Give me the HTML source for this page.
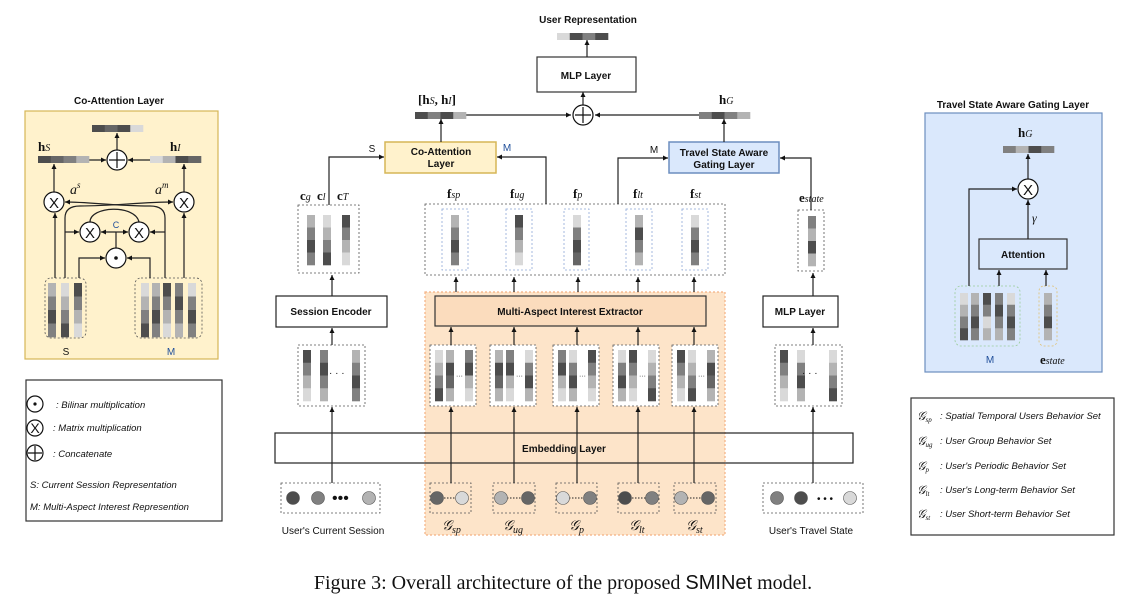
<!DOCTYPE html>
<html><head><meta charset="utf-8"><style>
body{margin:0;background:#fff}
svg{display:block;font-family:"Liberation Sans",sans-serif}
.b{font-weight:bold;font-size:10px}
.m{font-family:"Liberation Serif",serif;font-weight:bold;font-size:13px}
.i{font-style:italic;font-size:9.5px}
.sf{font-family:"Liberation Serif",serif}
</style></head><body>
<svg id="s" width="1126" height="604" viewBox="0 0 1126 604" xmlns="http://www.w3.org/2000/svg">
<defs><marker id="a" markerWidth="6" markerHeight="6" refX="5" refY="3" orient="auto" markerUnits="userSpaceOnUse"><path d="M0,0.5 L5,3 L0,5.5z" fill="#111"/></marker></defs>
<g stroke="#222" fill="none" stroke-width="1.2">
<rect x="25" y="111" width="193" height="248" fill="#fff2cc" stroke="#d6b656"/>
<rect x="925" y="113" width="177" height="259" fill="#dae8fc" stroke="#6c8ebf"/>
<rect x="26" y="380" width="196" height="141" stroke="#333"/>
<rect x="911" y="398" width="203" height="137" stroke="#333"/>
<rect x="425" y="292" width="300" height="243" fill="#fde4c9" stroke="#f4b183" stroke-dasharray="2,2"/>
<rect x="537" y="57" width="99" height="35" stroke="#333"/>
<rect x="385" y="142" width="111" height="31" fill="#fff2cc" stroke="#d6b656" stroke-width="1.5"/>
<rect x="669" y="142" width="110" height="31" fill="#dae8fc" stroke="#6c8ebf" stroke-width="1.5"/>
<rect x="276" y="296" width="111" height="31"/>
<rect x="435" y="296" width="271" height="30" fill="#fbdcbd" stroke="#333"/>
<rect x="763" y="296" width="75" height="31"/>
<rect x="275" y="433" width="578" height="30"/>
<rect x="979" y="239" width="88" height="30" stroke="#333"/>
<g stroke="#555" stroke-width="0.8" stroke-dasharray="2,2">
<rect x="298" y="205" width="61" height="68"/>
<rect x="425" y="204" width="300" height="71"/>
<rect x="798" y="210" width="26" height="61"/>
<rect x="298" y="345" width="67" height="61"/>
<rect x="430" y="345" width="46" height="61" fill="#fff"/><rect x="490" y="345" width="46" height="61" fill="#fff"/><rect x="553" y="345" width="46" height="61" fill="#fff"/><rect x="613" y="345" width="46" height="61" fill="#fff"/><rect x="672" y="345" width="46" height="61" fill="#fff"/>
<rect x="775" y="345" width="67" height="61"/>
<rect x="281" y="483" width="99" height="30"/>
<rect x="430" y="483" width="41" height="30"/><rect x="493" y="483" width="42" height="30"/><rect x="556" y="483" width="41" height="30"/><rect x="618" y="483" width="41" height="30"/><rect x="674" y="483" width="42" height="30"/>
<rect x="763" y="483" width="100" height="30"/>
<rect x="45" y="278" width="41" height="60" rx="6"/>
<rect x="135" y="278" width="67" height="60" rx="6"/>
</g>
<g stroke="#8fa9d8" stroke-width="0.8" stroke-dasharray="2,2">
<rect x="442" y="209" width="26" height="61"/><rect x="506" y="209" width="26" height="61"/><rect x="564" y="209" width="25" height="61"/><rect x="626" y="209" width="26" height="61"/><rect x="682" y="209" width="26" height="61"/>
</g>
<rect x="955" y="286" width="65" height="60" rx="6" stroke="#9c9" stroke-width="0.8" stroke-dasharray="2,2"/>
<rect x="1039" y="286" width="18" height="60" rx="5" stroke="#e0c070" stroke-width="0.8" stroke-dasharray="2,2"/>
<path d="M587,57 V40" marker-end="url(#a)"/>
<path d="M583,105 V92" marker-end="url(#a)"/>
<path d="M466,115 H571" marker-end="url(#a)"/>
<path d="M699,115 H595" marker-end="url(#a)"/>
<path d="M441,142 V119" marker-end="url(#a)"/>
<path d="M724,142 V119" marker-end="url(#a)"/>
<path d="M329,205 V157 H384" marker-end="url(#a)"/>
<path d="M546,204 V157 H497" marker-end="url(#a)"/>
<path d="M618,204 V158 H668" marker-end="url(#a)"/>
<path d="M811,210 V158 H780" marker-end="url(#a)"/>
<path d="M456,292 V277" marker-end="url(#a)"/><path d="M514,292 V277" marker-end="url(#a)"/><path d="M578,292 V277" marker-end="url(#a)"/><path d="M638,292 V277" marker-end="url(#a)"/><path d="M694,292 V277" marker-end="url(#a)"/>
<path d="M332,296 V275" marker-end="url(#a)"/>
<path d="M813,296 V273" marker-end="url(#a)"/>
<path d="M332,345 V328" marker-end="url(#a)"/>
<path d="M451,345 V327" marker-end="url(#a)"/><path d="M514,345 V327" marker-end="url(#a)"/><path d="M577,345 V327" marker-end="url(#a)"/><path d="M638,345 V327" marker-end="url(#a)"/><path d="M694,345 V327" marker-end="url(#a)"/>
<path d="M813,345 V328" marker-end="url(#a)"/>
<path d="M332,483 V407" marker-end="url(#a)"/><path d="M451,483 V407" marker-end="url(#a)"/><path d="M514,483 V407" marker-end="url(#a)"/><path d="M577,483 V407" marker-end="url(#a)"/><path d="M638,483 V407" marker-end="url(#a)"/><path d="M694,483 V407" marker-end="url(#a)"/><path d="M813,483 V407" marker-end="url(#a)"/>
<path d="M55,278 V213" marker-end="url(#a)"/>
<path d="M184,278 V213" marker-end="url(#a)"/>
<path d="M54,192 V164" marker-end="url(#a)"/>
<path d="M184,192 V164" marker-end="url(#a)"/>
<path d="M89,160 H106" marker-end="url(#a)"/>
<path d="M150,160 H128" marker-end="url(#a)"/>
<path d="M117,150 V133" marker-end="url(#a)"/>
<path d="M65,278 V218 Q65,206 80,206 C115,206 140,202 173,202" marker-end="url(#a)"/>
<path d="M165,278 V218 Q165,206 150,206 C115,206 90,202 65,202" marker-end="url(#a)"/>
<path d="M65,232 H79" marker-end="url(#a)"/>
<path d="M165,232 H150" marker-end="url(#a)"/>
<path d="M90,222 C90,206 135,204 139,222"/>
<path d="M116,248 V232 M116,232 H101" marker-end="url(#a)"/>
<path d="M116,232 H128" marker-end="url(#a)"/>
<path d="M79,278 V258 H105" marker-end="url(#a)"/>
<path d="M150,278 V258 H127" marker-end="url(#a)"/>
<path d="M1028,179 V154" marker-end="url(#a)"/>
<path d="M1028,239 V200" marker-end="url(#a)"/>
<path d="M969,286 V189 H1017" marker-end="url(#a)"/>
<path d="M999,286 V270" marker-end="url(#a)"/>
<path d="M1046,286 V270" marker-end="url(#a)"/>
<g fill="#fff" stroke="#111">
<circle cx="583" cy="115" r="10"/><circle cx="117" cy="160" r="10"/>
<circle cx="54" cy="202" r="10"/><circle cx="184" cy="202" r="10"/><circle cx="90" cy="232" r="10"/><circle cx="139" cy="232" r="10"/><circle cx="116" cy="258" r="10"/>
<circle cx="1028" cy="189" r="10"/>
<circle cx="35" cy="404" r="8"/><circle cx="35" cy="428" r="8"/><circle cx="35" cy="453" r="8"/>
</g>
<path d="M575,115 H591 M583,107 V123 M109,160 H125 M117,152 V168 M28,453 H42 M35,446 V460" stroke="#111"/>
</g>
<g fill="#111"><circle cx="116" cy="258" r="1.8"/><circle cx="35" cy="404" r="1.6"/></g>
<g font-size="15" text-anchor="middle" fill="#111">
<text x="54" y="208">X</text><text x="184" y="208">X</text><text x="90" y="238">X</text><text x="139" y="238">X</text><text x="1028" y="195">X</text><text x="35" y="433" font-size="14">X</text>
</g>
<g id="bars"></g>
<g fill="#111">
<text class="b" x="588" y="23" text-anchor="middle">User Representation</text>
<text class="b" x="586" y="79" text-anchor="middle">MLP Layer</text>
<text class="b" x="441" y="155" text-anchor="middle">Co-Attention</text>
<text class="b" x="441" y="167" text-anchor="middle">Layer</text>
<text class="b" x="724" y="156" text-anchor="middle">Travel State Aware</text>
<text class="b" x="724" y="168" text-anchor="middle">Gating Layer</text>
<text class="b" x="331" y="315" text-anchor="middle">Session Encoder</text>
<text class="b" x="570" y="315" text-anchor="middle" font-size="12">Multi-Aspect Interest Extractor</text>
<text class="b" x="800" y="315" text-anchor="middle">MLP Layer</text>
<text class="b" x="564" y="452" text-anchor="middle">Embedding Layer</text>
<text class="b" x="1023" y="258" text-anchor="middle">Attention</text>
<text class="b" x="119" y="104" text-anchor="middle">Co-Attention Layer</text>
<text class="b" x="1013" y="108" text-anchor="middle">Travel State Aware Gating Layer</text>
<text x="372" y="152" font-size="10" text-anchor="middle">S</text>
<text x="507" y="151" font-size="10" text-anchor="middle" fill="#1f4e9a">M</text>
<text x="654" y="153" font-size="10" text-anchor="middle">M</text>
<text x="66" y="355" font-size="10" text-anchor="middle">S</text>
<text x="171" y="355" font-size="10" text-anchor="middle" fill="#1f4e9a">M</text>
<text x="990" y="363" font-size="10" text-anchor="middle" fill="#1f4e9a">M</text>
<text x="116" y="228" font-size="9" text-anchor="middle" fill="#1f4e9a">C</text>
<text x="333" y="534" font-size="10" text-anchor="middle">User's Current Session</text>
<text x="811" y="534" font-size="10" text-anchor="middle">User's Travel State</text>
<g class="sf" font-size="14">
<text class="m" x="418" y="104">[h<tspan font-weight="normal" font-style="italic" font-size="10">S</tspan>, h<tspan font-weight="normal" font-style="italic" font-size="10">I</tspan>]</text>
<text class="m" x="719" y="104">h<tspan font-weight="normal" font-style="italic" font-size="10">G</tspan></text>
<text class="m" x="38" y="151">h<tspan font-weight="normal" font-style="italic" font-size="10">S</tspan></text>
<text class="m" x="170" y="151">h<tspan font-weight="normal" font-style="italic" font-size="10">I</tspan></text>
<text class="m" x="1018" y="137">h<tspan font-weight="normal" font-style="italic" font-size="10">G</tspan></text>
<text class="m" x="1040" y="364">e<tspan font-weight="normal" font-style="italic" font-size="10">state</tspan></text>
<text class="m" x="799" y="202">e<tspan font-weight="normal" font-style="italic" font-size="10">state</tspan></text>
<text class="m" x="300" y="200">c<tspan font-weight="normal" font-style="italic" font-size="10">g</tspan></text>
<text class="m" x="317" y="200">c<tspan font-weight="normal" font-style="italic" font-size="10">l</tspan></text>
<text class="m" x="337" y="200">c<tspan font-weight="normal" font-style="italic" font-size="10">T</tspan></text>
<text class="m" x="447" y="198">f<tspan font-weight="normal" font-style="italic" font-size="10">sp</tspan></text>
<text class="m" x="510" y="198">f<tspan font-weight="normal" font-style="italic" font-size="10">ug</tspan></text>
<text class="m" x="573" y="198">f<tspan font-weight="normal" font-style="italic" font-size="10">p</tspan></text>
<text class="m" x="633" y="198">f<tspan font-weight="normal" font-style="italic" font-size="10">lt</tspan></text>
<text class="m" x="690" y="198">f<tspan font-weight="normal" font-style="italic" font-size="10">st</tspan></text>
<text x="70" y="194" font-style="italic">a<tspan font-size="9" dy="-6">s</tspan></text>
<text x="155" y="194" font-style="italic">a<tspan font-size="9" dy="-6">m</tspan></text>
<text x="1032" y="222" font-style="italic" font-size="12">γ</text>
<text x="442" y="530" font-style="italic">𝒢<tspan font-size="10" dy="3">sp</tspan></text>
<text x="503" y="530" font-style="italic">𝒢<tspan font-size="10" dy="3">ug</tspan></text>
<text x="569" y="530" font-style="italic">𝒢<tspan font-size="10" dy="3">p</tspan></text>
<text x="629" y="530" font-style="italic">𝒢<tspan font-size="10" dy="3">lt</tspan></text>
<text x="686" y="530" font-style="italic">𝒢<tspan font-size="10" dy="3">st</tspan></text>
<text x="917" y="420" font-style="italic" font-size="12">𝒢<tspan font-size="7" dy="2">sp</tspan></text>
<text x="917" y="445" font-style="italic" font-size="12">𝒢<tspan font-size="7" dy="2">ug</tspan></text>
<text x="917" y="470" font-style="italic" font-size="12">𝒢<tspan font-size="7" dy="2">p</tspan></text>
<text x="917" y="494" font-style="italic" font-size="12">𝒢<tspan font-size="7" dy="2">lt</tspan></text>
<text x="917" y="518" font-style="italic" font-size="12">𝒢<tspan font-size="7" dy="2">st</tspan></text>
</g>
<text class="i" x="940" y="419">: Spatial Temporal Users Behavior Set</text>
<text class="i" x="940" y="444">: User Group Behavior Set</text>
<text class="i" x="940" y="469">: User's Periodic Behavior Set</text>
<text class="i" x="940" y="493">: User's Long-term Behavior Set</text>
<text class="i" x="940" y="517">: User Short-term Behavior Set</text>
<text class="i" x="56" y="408">: Bilinar multiplication</text>
<text class="i" x="53" y="431">: Matrix multiplication</text>
<text class="i" x="53" y="457">: Concatenate</text>
<text class="i" x="30" y="488">S: Current Session Representation</text>
<text class="i" x="30" y="510">M: Multi-Aspect Interest Represention</text>
<text class="sf" x="563" y="589" text-anchor="middle" font-size="20">Figure 3: Overall architecture of the proposed <tspan style="font-family:'Liberation Sans',sans-serif">SMINet</tspan> model.</text>
</g>
<g fill="#111" font-size="10"><text x="329" y="376">· · ·</text><text x="802" y="376">· · ·</text>
<text x="456" y="378" font-size="7">···</text><text x="516" y="378" font-size="7">···</text><text x="579" y="378" font-size="7">···</text><text x="639" y="378" font-size="7">···</text><text x="698" y="378" font-size="7">···</text>
<text x="332" y="503" font-size="16">•••</text><text x="817" y="502" font-size="10">• • •</text></g>
<g stroke="#222" stroke-width="1" stroke-dasharray="1.5,1.5"><path d="M441,498 H460 M504,498 H524 M566,498 H586 M629,498 H649 M684,498 H705"/></g>
<g id="circ"></g>
</svg>
<script>
var P=["#4d4d4d","#808080","#b3b3b3","#d9d9d9","#666"];
var g=document.getElementById("bars"),s="";
function H(x,y,w,h,c){c.forEach(function(k,i){s+='<rect x="'+(x+i*w/c.length)+'" y="'+y+'" width="'+(w/c.length+0.3)+'" height="'+h+'" fill="'+P[k]+'"/>';});}
function V(x,y,w,h,c){c.forEach(function(k,i){s+='<rect x="'+x+'" y="'+(y+i*h/c.length)+'" width="'+w+'" height="'+(h/c.length+0.3)+'" fill="'+P[k]+'"/>';});}
H(557,33,51,7,[3,0,1,0]);H(415,112,51,7,[0,1,0,2]);H(699,112,51,7,[1,0,1,2]);
H(92,125,51,7,[0,4,0,3]);H(38,156,51,7,[0,4,1,2]);H(150,156,51,7,[3,2,0,4]);H(1003,146,51,7,[1,2,0,1]);
V(307,215,8,50,[2,1,0,1]);V(323,215,8,50,[3,2,1,0]);V(342,215,8,50,[0,1,2,3]);
V(451,215,8,50,[2,1,0,1]);V(515,215,8,50,[0,1,2,3]);V(573,215,8,50,[3,1,0,4]);V(635,215,8,50,[2,0,1,2]);V(691,215,8,50,[3,1,0,1]);
V(808,216,8,50,[1,2,0,2]);
function B(x,cols){cols.forEach(function(c){V(x+c[0],350,8,51,c[1]);});}
B(298,[[5,[0,1,2,3]],[22,[1,0,1,2]],[54,[2,1,0,1]]]);
[430,490,553,613,672].forEach(function(x,j){var a=[[3,2,1,0],[2,0,4,2],[1,0,2,3],[3,1,0,2],[0,1,2,3]];B(x,[[5,a[j]],[16,a[(j+1)%5]],[35,a[(j+2)%5]]]);});
B(775,[[5,[0,1,2,3]],[22,[3,1,0,2]],[54,[3,2,1,0]]]);
V(48,283,8,54,[2,1,0,1]);V(61,283,8,54,[3,2,1,0]);V(74,283,8,54,[0,1,2,3]);
[[141,[3,2,1,0]],[152,[2,1,0,1]],[163,[0,1,2,3]],[175,[1,0,1,2]],[188,[3,1,0,1]]].forEach(function(c){V(c[0],283,8,54,c[1]);});
[[960,[3,2,1,0]],[971,[2,1,0,1]],[983,[0,1,3,2]],[995,[1,0,1,2]],[1007,[3,1,0,1]]].forEach(function(c){V(c[0],293,8,47,c[1]);});
V(1044,293,8,47,[2,1,0,2]);
g.innerHTML=s;
var c="";function C(x,k){c+='<circle cx="'+x+'" cy="498" r="6.5" fill="'+P[k]+'" stroke="#555" stroke-width="0.6"/>';}
C(293,0);C(318,1);C(369,2);C(437,4);C(462,3);C(501,2);C(528,4);C(563,3);C(590,1);C(625,0);C(652,1);C(681,2);C(708,4);C(777,1);C(801,0);C(850,3);
document.getElementById("circ").innerHTML=c;
</script>
</body></html>
